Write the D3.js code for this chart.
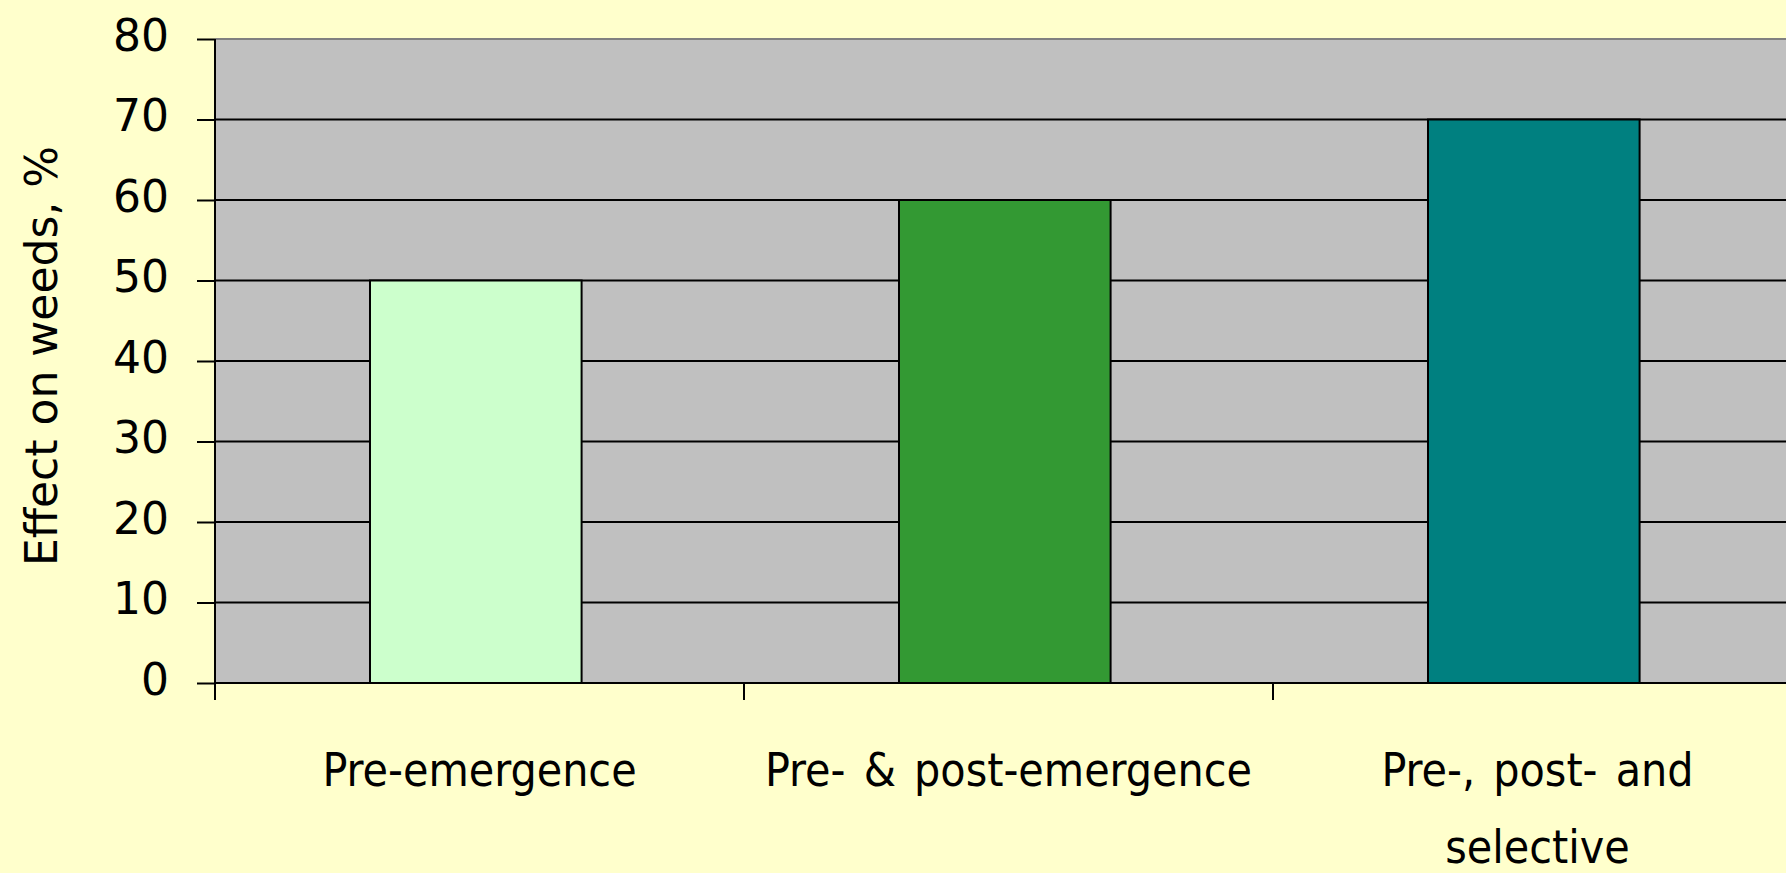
<!DOCTYPE html>
<html><head><meta charset="utf-8">
<script src="https://cdn.jsdelivr.net/npm/d3@7"></script>
<style>html,body{margin:0;padding:0;background:#FFFFCC;overflow:hidden}</style>
</head><body>
<svg id="c" width="1786" height="873"></svg>
<script>
const categories = [["Pre-emergence"], ["Pre- & post-emergence"], ["Pre-, post- and", "selective"]];
const values = [50, 60, 70];
const barColors = ["#CCFFCC", "#339933", "#008080"];
const yTicks = [0, 10, 20, 30, 40, 50, 60, 70, 80];
const yTitle = "Effect on weeds, %";

(function () {
const svg = d3.select("#c");
const W = 1786, H = 873;
const pLeft = 215, pTop = 39, pBottom = 683, band = 529;
const pRight = pLeft + band * categories.length;

svg.append("rect").attr("width", W).attr("height", H).attr("fill", "#FFFFCC");

const xb = d3.scaleBand().domain(d3.range(categories.length)).range([pLeft, pRight]);
const y = d3.scaleLinear().domain([0, 80]).range([pBottom, pTop]);

// plot area
svg.append("rect").attr("x", pLeft).attr("y", pTop).attr("width", pRight - pLeft).attr("height", pBottom - pTop).attr("fill", "#C0C0C0");
svg.append("line").attr("x1", pLeft).attr("x2", pRight).attr("y1", pTop).attr("y2", pTop).attr("stroke", "#808080").attr("stroke-width", 2);

// gridlines
svg.append("g").selectAll("line").data(yTicks.filter(d => d > 0 && d < 80)).join("line")
  .attr("x1", pLeft).attr("x2", pRight).attr("y1", d => y(d)).attr("y2", d => y(d))
  .attr("stroke", "#000").attr("stroke-width", 2);

// bars
svg.append("g").selectAll("rect").data(values).join("rect")
  .attr("x", (d, i) => xb(i) + xb.bandwidth() * 0.293)
  .attr("width", xb.bandwidth() * 0.4)
  .attr("y", d => y(d)).attr("height", d => y(0) - y(d))
  .attr("fill", (d, i) => barColors[i]).attr("stroke", "#000").attr("stroke-width", 2);

// y axis
const yAxis = d3.axisLeft(y).tickValues(yTicks).tickSize(18).tickPadding(28);
const ga = svg.append("g").attr("transform", `translate(${pLeft},0)`).call(yAxis);
ga.select(".domain").remove();
ga.selectAll(".tick line").attr("stroke", "#000").attr("stroke-width", 2);
ga.selectAll(".tick text").attr("font-family", "'DejaVu Sans', Verdana, sans-serif").attr("font-size", 44)
  .attr("fill", "#000").attr("dy", "0.26em");
svg.append("line").attr("x1", pLeft).attr("x2", pLeft).attr("y1", pTop).attr("y2", pBottom + 17).attr("stroke", "#000").attr("stroke-width", 2);

// x axis
svg.append("line").attr("x1", pLeft).attr("x2", pRight).attr("y1", pBottom).attr("y2", pBottom).attr("stroke", "#000").attr("stroke-width", 2);
svg.append("g").selectAll("line").data(d3.range(categories.length + 1)).join("line")
  .attr("x1", i => pLeft + band * i).attr("x2", i => pLeft + band * i)
  .attr("y1", pBottom).attr("y2", pBottom + 17).attr("stroke", "#000").attr("stroke-width", 2);

const xl = svg.append("g").selectAll("text").data(categories).join("text")
  .attr("x", (d, i) => xb(i) + xb.bandwidth() / 2).attr("y", 786)
  .attr("text-anchor", "middle")
  .attr("font-family", "'DejaVu Sans Condensed', 'DejaVu Sans', sans-serif")
  .attr("font-stretch", "condensed")
  .attr("word-spacing", 5)
  .attr("font-size", 46).attr("fill", "#000");
xl.selectAll("tspan").data(d => d).join("tspan")
  .attr("x", function() { return this.parentNode.getAttribute("x"); })
  .attr("dy", (d, j) => j === 0 ? 0 : 77).text(d => d);

// y title
svg.append("text").attr("transform", `translate(57,${(pTop + pBottom) / 2 - 5}) rotate(-90)`)
  .attr("text-anchor", "middle")
  .attr("font-family", "'DejaVu Sans', Verdana, sans-serif").attr("font-size", 44).attr("fill", "#000")
  .text(yTitle);
})();
</script>
</body></html>
